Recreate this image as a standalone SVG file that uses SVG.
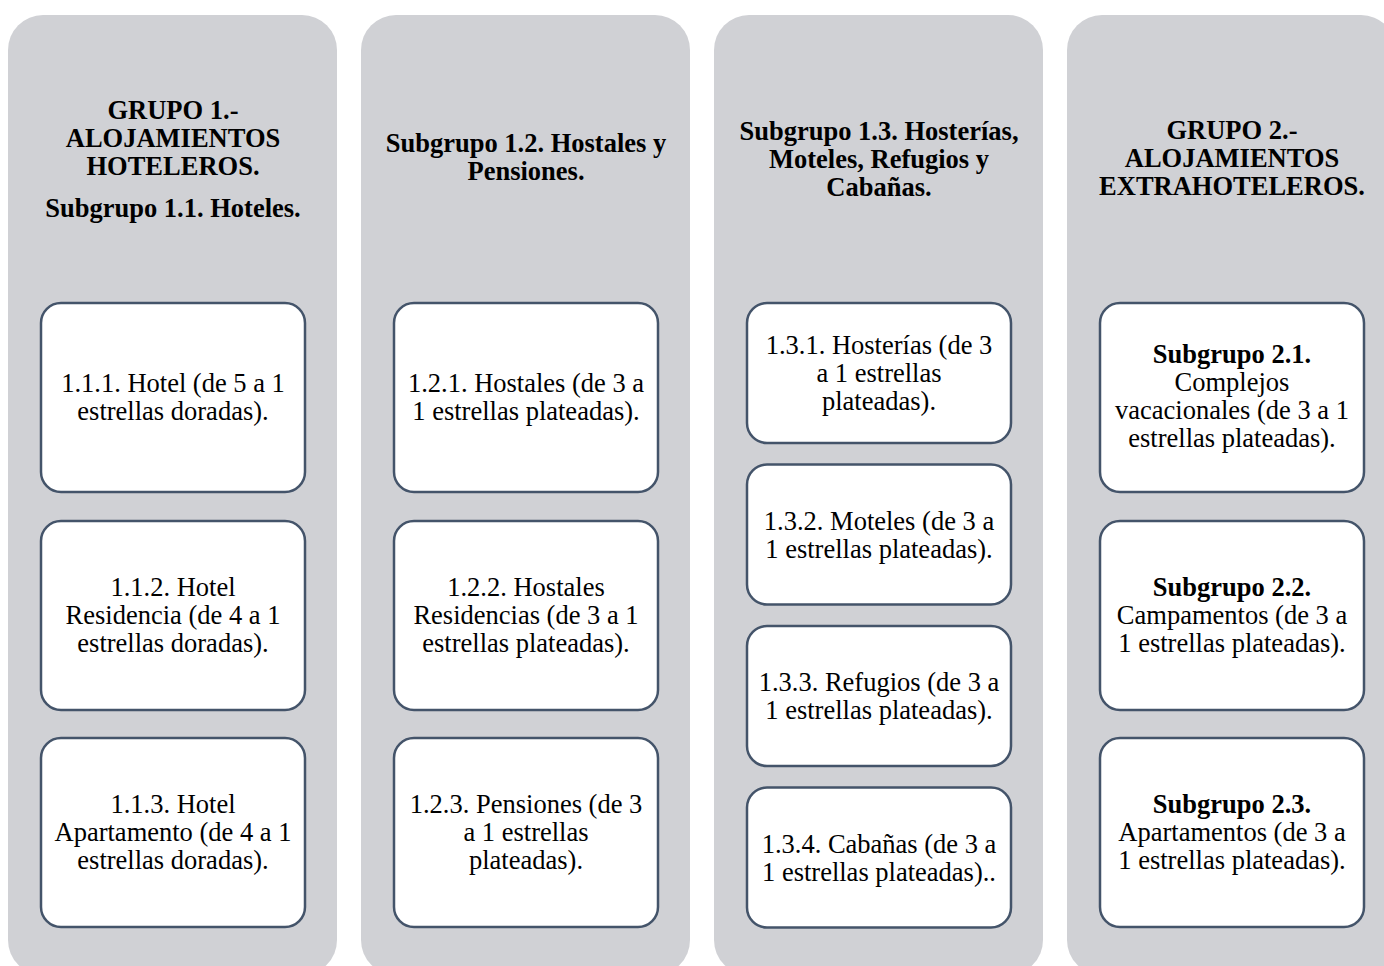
<svg xmlns="http://www.w3.org/2000/svg" width="1384" height="966" viewBox="0 0 1384 966">
<style>
.col{fill:#d0d1d5;}
.box{fill:#ffffff;stroke:#44546a;stroke-width:2.5;}
text{font-family:"Liberation Serif","Times New Roman",serif;font-size:26.5px;fill:#000;text-anchor:middle;}
.b{font-weight:bold;}
</style>
<rect width="1384" height="966" fill="#ffffff"/>
<g id="group1">
<rect class="col" x="8" y="15" width="329" height="960" rx="35"/>
<text class="b" x="173" y="119">GRUPO 1.-</text>
<text class="b" x="173" y="147">ALOJAMIENTOS</text>
<text class="b" x="173" y="175">HOTELEROS.</text>
<text class="b" x="173" y="217">Subgrupo 1.1. Hoteles.</text>
</g>
<g id="n111"><rect class="box" x="41" y="303" width="264" height="189" rx="20"/>
<text x="173" y="392">1.1.1. Hotel (de 5 a 1</text><text x="173" y="420">estrellas doradas).</text></g>
<g id="n112"><rect class="box" x="41" y="521" width="264" height="189" rx="20"/>
<text x="173" y="596">1.1.2. Hotel</text><text x="173" y="624">Residencia (de 4 a 1</text><text x="173" y="652">estrellas doradas).</text></g>
<g id="n113"><rect class="box" x="41" y="738" width="264" height="189" rx="20"/>
<text x="173" y="813">1.1.3. Hotel</text><text x="173" y="841">Apartamento (de 4 a 1</text><text x="173" y="869">estrellas doradas).</text></g>

<g id="group12">
<rect class="col" x="361" y="15" width="329" height="960" rx="35"/>
<text class="b" x="526" y="152">Subgrupo 1.2. Hostales y</text>
<text class="b" x="526" y="180">Pensiones.</text>
</g>
<g id="n121"><rect class="box" x="394" y="303" width="264" height="189" rx="20"/>
<text x="526" y="392">1.2.1. Hostales (de 3 a</text><text x="526" y="420">1 estrellas plateadas).</text></g>
<g id="n122"><rect class="box" x="394" y="521" width="264" height="189" rx="20"/>
<text x="526" y="596">1.2.2. Hostales</text><text x="526" y="624">Residencias (de 3 a 1</text><text x="526" y="652">estrellas plateadas).</text></g>
<g id="n123"><rect class="box" x="394" y="738" width="264" height="189" rx="20"/>
<text x="526" y="813">1.2.3. Pensiones (de 3</text><text x="526" y="841">a 1 estrellas</text><text x="526" y="869">plateadas).</text></g>

<g id="group13">
<rect class="col" x="714" y="15" width="329" height="960" rx="35"/>
<text class="b" x="879" y="140">Subgrupo 1.3. Hosterías,</text>
<text class="b" x="879" y="168">Moteles, Refugios y</text>
<text class="b" x="879" y="196">Cabañas.</text>
</g>
<g id="n131"><rect class="box" x="747" y="303" width="264" height="140" rx="20"/>
<text x="879" y="354">1.3.1. Hosterías (de 3</text><text x="879" y="382">a 1 estrellas</text><text x="879" y="410">plateadas).</text></g>
<g id="n132"><rect class="box" x="747" y="464.5" width="264" height="140" rx="20"/>
<text x="879" y="529.5">1.3.2. Moteles (de 3 a</text><text x="879" y="557.5">1 estrellas plateadas).</text></g>
<g id="n133"><rect class="box" x="747" y="626" width="264" height="140" rx="20"/>
<text x="879" y="691">1.3.3. Refugios (de 3 a</text><text x="879" y="719">1 estrellas plateadas).</text></g>
<g id="n134"><rect class="box" x="747" y="787.5" width="264" height="140" rx="20"/>
<text x="879" y="852.5">1.3.4. Cabañas (de 3 a</text><text x="879" y="880.5">1 estrellas plateadas)..</text></g>

<g id="group2">
<rect class="col" x="1067" y="15" width="329" height="960" rx="35"/>
<text class="b" x="1232" y="139">GRUPO 2.-</text>
<text class="b" x="1232" y="167">ALOJAMIENTOS</text>
<text class="b" x="1232" y="195">EXTRAHOTELEROS.</text>
</g>
<g id="n21"><rect class="box" x="1100" y="303" width="264" height="189" rx="20"/>
<text class="b" x="1232" y="363">Subgrupo 2.1.</text><text x="1232" y="391">Complejos</text><text x="1232" y="419">vacacionales (de 3 a 1</text><text x="1232" y="447">estrellas plateadas).</text></g>
<g id="n22"><rect class="box" x="1100" y="521" width="264" height="189" rx="20"/>
<text class="b" x="1232" y="596">Subgrupo 2.2.</text><text x="1232" y="624">Campamentos (de 3 a</text><text x="1232" y="652">1 estrellas plateadas).</text></g>
<g id="n23"><rect class="box" x="1100" y="738" width="264" height="189" rx="20"/>
<text class="b" x="1232" y="813">Subgrupo 2.3.</text><text x="1232" y="841">Apartamentos (de 3 a</text><text x="1232" y="869">1 estrellas plateadas).</text></g>
<g id="connectors"></g>
</svg>
